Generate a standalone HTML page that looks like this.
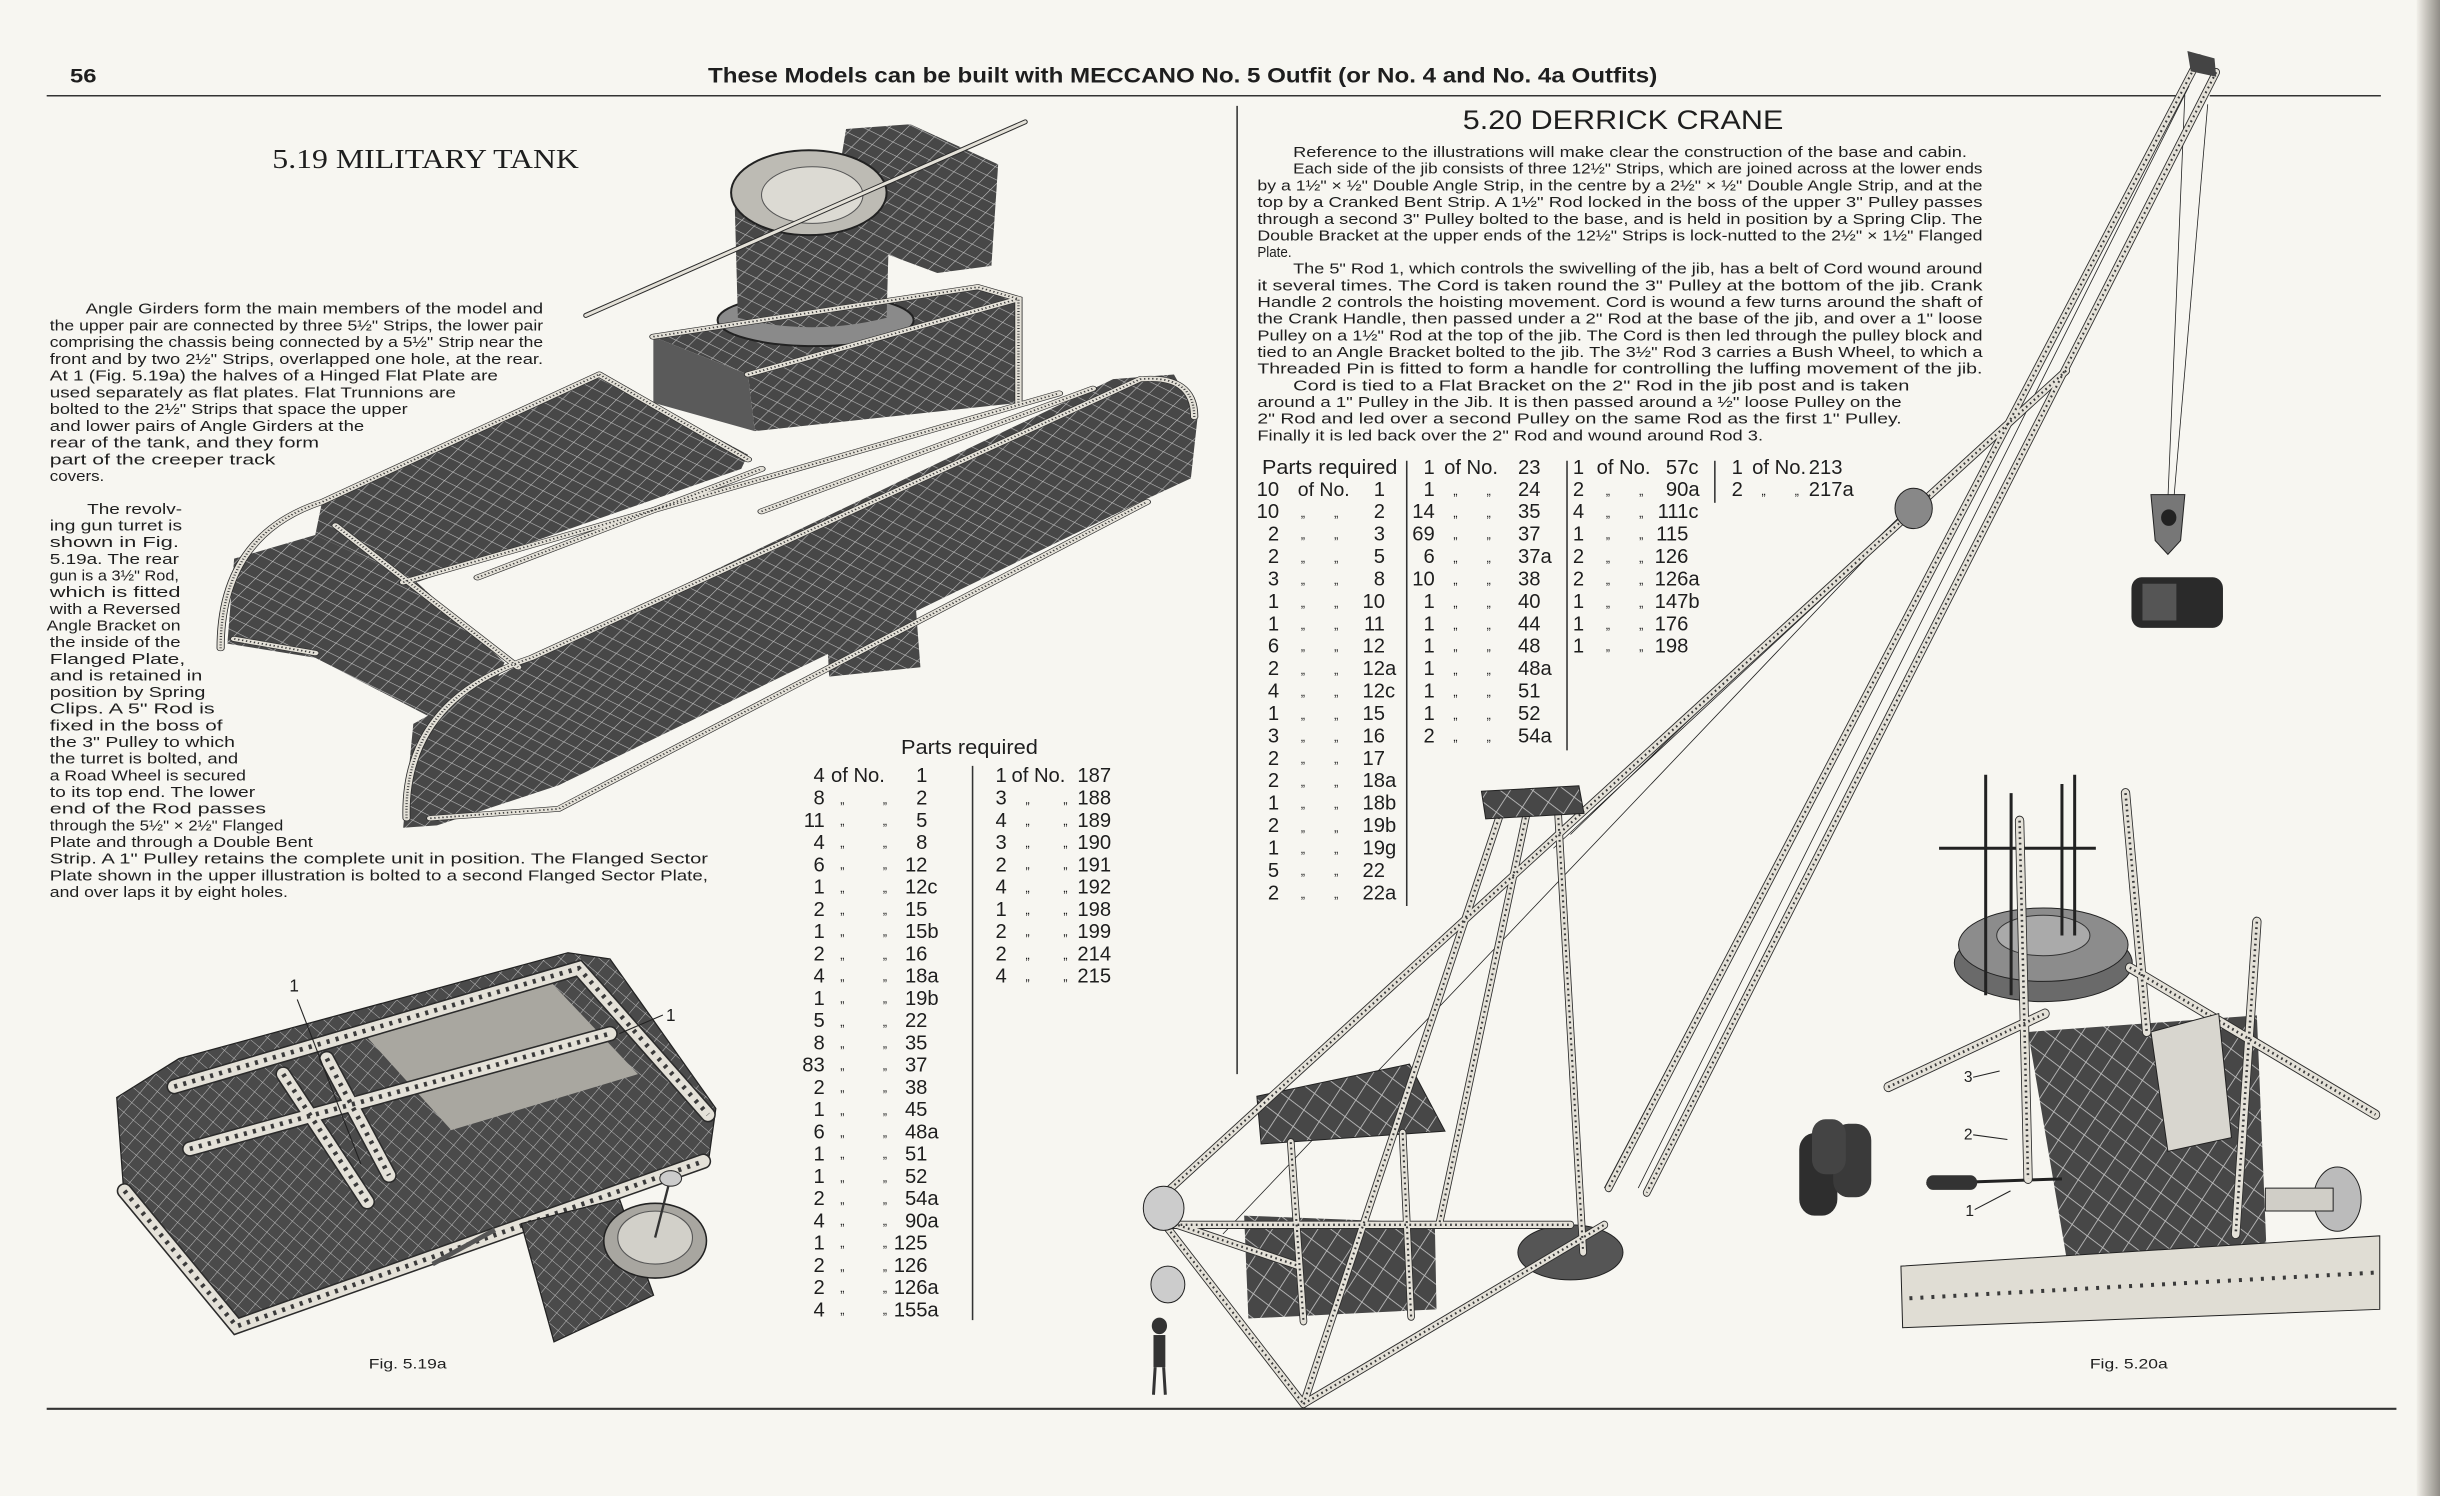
<!DOCTYPE html>
<html><head><meta charset="utf-8"><style>
html,body{margin:0;padding:0;background:#f7f6f1;}
#w{position:relative;width:2440px;height:1496px;overflow:hidden;background:#f7f6f1;}
svg{position:absolute;left:0;top:0}
text{font-family:"Liberation Sans",sans-serif;fill:#1e1e1e}
.b{fill:none;stroke:#2b2b2b;vector-effect:non-scaling-stroke;stroke-linecap:round}
.l{fill:none;stroke:#e4e1d8;vector-effect:non-scaling-stroke;stroke-linecap:round}
.h{fill:none;stroke:#3a3a3a;vector-effect:non-scaling-stroke;stroke-dasharray:2 4}
.t{fill:none;stroke:#222;vector-effect:non-scaling-stroke;stroke-width:0.8}
.tx{font-size:9.6px}
.pt{font-size:13px;fill:#2a2a2a}
.dt{font-size:8px;fill:#333}
</style></head><body><div id="w">
<svg width="2440" height="1496" viewBox="0 0 1568 961" preserveAspectRatio="none">
<defs>
<pattern id="mA" patternUnits="userSpaceOnUse" width="22" height="22" patternTransform="rotate(35)">
<rect width="22" height="22" fill="#474747"/><path d="M0 0H22M0 0V22" stroke="#bdbdbd" stroke-width="2"/></pattern>
<pattern id="mB" patternUnits="userSpaceOnUse" width="8" height="8" patternTransform="rotate(40)">
<rect width="8" height="8" fill="#4a4a4a"/><path d="M0 0H8M0 0V8" stroke="#b8b8b8" stroke-width="0.7"/></pattern>
<linearGradient id="edge" x1="0" x2="1"><stop offset="0" stop-color="#f2f0ea"/><stop offset="0.4" stop-color="#c9c6bf"/><stop offset="1" stop-color="#8f8c86"/></linearGradient>
<path id="s1" d="M60,1140 Q60,900 210,830 L620,560"/>
<path id="s2" d="M335,1500 Q330,1250 520,1160 L1420,570 Q1500,560 1500,650"/>
<path id="s3" d="M370,1500 L560,1480 L1430,830"/>
<path id="s4" d="M80,1120 L200,1150"/>
<path id="s5" d="M230,880 L500,1180"/>
<path id="s6" d="M330,1000 L1300,600"/>
<path id="s7" d="M440,990 L860,760"/>
<path id="s8" d="M620,560 L840,740"/>
<path id="s9" d="M700,480 L1180,375 L1240,400 L1240,620"/>
<path id="s10" d="M840,560 L1240,400"/>
<path id="s11" d="M860,850 L1350,590"/>
<path id="f1" d="M112,698 L372,622 L455,716"/>
<path id="f2" d="M122,738 L392,664"/>
<path id="f3" d="M182,690 L236,772"/>
<path id="f4" d="M80,765 L152,852 L452,746"/>
<path id="f5" d="M210,680 L250,755"/>
<path id="c1" d="M1262,20 L565,1250"/>
<path id="c2" d="M1282,35 L610,1255"/>
<path id="c3" d="M1105,360 L25,1270"/>
<path id="c4" d="M440,835 L205,1485"/>
<path id="c5" d="M470,835 L365,1290"/>
<path id="c6" d="M505,835 L535,1320"/>
<path id="c7" d="M205,1485 L560,1290"/>
<path id="c8" d="M25,1270 L205,1485"/>
<path id="c9" d="M190,1200 L205,1395"/>
<path id="c10" d="M322,1190 L332,1390"/>
<path id="c11" d="M40,1285 L200,1335"/>
<path id="c12" d="M30,1290 L520,1290"/>
<path id="d1" d="M895,1140 L1080,1060"/>
<path id="d2" d="M1180,1010 L1470,1170"/>
<path id="d3" d="M1175,820 L1200,1080"/>
<path id="d4" d="M1330,960 L1305,1300"/>
<path id="d5" d="M1050,850 L1060,1240"/>
</defs>
<rect x="1553" y="0" width="15" height="961" fill="url(#edge)"/>

<!-- header -->
<text x="45" y="53" font-size="12.5" font-weight="bold" textLength="17" lengthAdjust="spacingAndGlyphs">56</text>
<text x="455" y="53" font-size="13.5" font-weight="bold" textLength="610" lengthAdjust="spacingAndGlyphs">These Models can be built with MECCANO No. 5 Outfit (or No. 4 and No. 4a Outfits)</text>
<line x1="30" y1="61.5" x2="1398" y2="61.5" stroke="#333" stroke-width="1"/>
<line x1="1420" y1="61.5" x2="1530" y2="61.5" stroke="#333" stroke-width="1"/>
<line x1="795" y1="68" x2="795" y2="690" stroke="#333" stroke-width="1"/>
<line x1="30" y1="905" x2="1540" y2="905" stroke="#333" stroke-width="1.3"/>

<text x="175" y="108" font-size="17.5" textLength="197" lengthAdjust="spacingAndGlyphs" style="font-family:'Liberation Serif',serif">5.19  MILITARY TANK</text>
<text x="940" y="83" font-size="17" textLength="206" lengthAdjust="spacingAndGlyphs">5.20  DERRICK CRANE</text>

<!-- tank text -->
<g class="tx">
<text x="55" y="201.5" textLength="294" lengthAdjust="spacingAndGlyphs">Angle Girders form the main members of the model and</text>
<text x="32" y="212.3" textLength="317" lengthAdjust="spacingAndGlyphs">the upper pair are connected by three 5½" Strips, the lower pair</text>
<text x="32" y="223.0" textLength="317" lengthAdjust="spacingAndGlyphs">comprising the chassis being connected by a 5½" Strip near the</text>
<text x="32" y="233.8" textLength="317" lengthAdjust="spacingAndGlyphs">front and by two 2½" Strips, overlapped one hole, at the rear.</text>
<text x="32" y="244.5" textLength="288" lengthAdjust="spacingAndGlyphs">At 1 (Fig. 5.19a) the halves of a Hinged Flat Plate are</text>
<text x="32" y="255.3" textLength="261" lengthAdjust="spacingAndGlyphs">used separately as flat plates.  Flat Trunnions are</text>
<text x="32" y="266.0" textLength="230" lengthAdjust="spacingAndGlyphs">bolted to the 2½" Strips that space the upper</text>
<text x="32" y="276.8" textLength="202" lengthAdjust="spacingAndGlyphs">and lower pairs of Angle Girders at the</text>
<text x="32" y="287.6" textLength="173" lengthAdjust="spacingAndGlyphs">rear of the tank, and they form</text>
<text x="32" y="298.3" textLength="145" lengthAdjust="spacingAndGlyphs">part of the creeper track</text>
<text x="32" y="309.1" textLength="35" lengthAdjust="spacingAndGlyphs">covers.</text>
<text x="56" y="330.1" textLength="61" lengthAdjust="spacingAndGlyphs">The revolv-</text>
<text x="32" y="340.8" textLength="85" lengthAdjust="spacingAndGlyphs">ing gun turret is</text>
<text x="32" y="351.5" textLength="83" lengthAdjust="spacingAndGlyphs">shown  in  Fig.</text>
<text x="32" y="362.2" textLength="83" lengthAdjust="spacingAndGlyphs">5.19a.  The rear</text>
<text x="32" y="372.9" textLength="83" lengthAdjust="spacingAndGlyphs">gun is a 3½" Rod,</text>
<text x="32" y="383.6" textLength="84" lengthAdjust="spacingAndGlyphs">which  is  fitted</text>
<text x="32" y="394.3" textLength="84" lengthAdjust="spacingAndGlyphs">with a Reversed</text>
<text x="30" y="405.0" textLength="86" lengthAdjust="spacingAndGlyphs">Angle Bracket on</text>
<text x="32" y="415.7" textLength="84" lengthAdjust="spacingAndGlyphs">the inside of the</text>
<text x="32" y="426.4" textLength="87" lengthAdjust="spacingAndGlyphs">Flanged      Plate,</text>
<text x="32" y="437.1" textLength="98" lengthAdjust="spacingAndGlyphs">and is retained in</text>
<text x="32" y="447.8" textLength="100" lengthAdjust="spacingAndGlyphs">position by Spring</text>
<text x="32" y="458.5" textLength="106" lengthAdjust="spacingAndGlyphs">Clips.  A 5" Rod is</text>
<text x="32" y="469.2" textLength="111" lengthAdjust="spacingAndGlyphs">fixed in the boss of</text>
<text x="32" y="479.9" textLength="119" lengthAdjust="spacingAndGlyphs">the 3" Pulley to which</text>
<text x="32" y="490.6" textLength="121" lengthAdjust="spacingAndGlyphs">the turret is bolted, and</text>
<text x="32" y="501.3" textLength="126" lengthAdjust="spacingAndGlyphs">a Road Wheel is secured</text>
<text x="32" y="512.0" textLength="132" lengthAdjust="spacingAndGlyphs">to its top end.  The lower</text>
<text x="32" y="522.7" textLength="139" lengthAdjust="spacingAndGlyphs">end  of  the  Rod  passes</text>
<text x="32" y="533.4" textLength="150" lengthAdjust="spacingAndGlyphs">through the 5½" × 2½" Flanged</text>
<text x="32" y="544.1" textLength="169" lengthAdjust="spacingAndGlyphs">Plate and through a Double Bent</text>
<text x="32" y="554.8" textLength="423" lengthAdjust="spacingAndGlyphs">Strip.  A 1" Pulley retains the complete unit in position.  The Flanged Sector</text>
<text x="32" y="565.5" textLength="423" lengthAdjust="spacingAndGlyphs">Plate shown in the upper illustration is bolted to a second Flanged Sector Plate,</text>
<text x="32" y="576.2" textLength="153" lengthAdjust="spacingAndGlyphs">and over laps it by eight holes.</text>
</g>

<!-- crane text -->
<g class="tx" style="font-size:9.4px">
<text x="831" y="100.9" textLength="433" lengthAdjust="spacingAndGlyphs">Reference to the illustrations will make clear the construction of the base and cabin.</text>
<text x="831" y="111.6" textLength="443" lengthAdjust="spacingAndGlyphs">Each side of the jib consists of three 12½" Strips, which are joined across at the lower ends</text>
<text x="808" y="122.3" textLength="466" lengthAdjust="spacingAndGlyphs">by a 1½" × ½" Double Angle Strip, in the centre by a 2½" × ½" Double Angle Strip, and at the</text>
<text x="808" y="133.0" textLength="466" lengthAdjust="spacingAndGlyphs">top by a Cranked Bent Strip.  A 1½" Rod locked in the boss of the upper 3" Pulley passes</text>
<text x="808" y="143.8" textLength="466" lengthAdjust="spacingAndGlyphs">through a second 3" Pulley bolted to the base, and is held in position by a Spring Clip.  The</text>
<text x="808" y="154.5" textLength="466" lengthAdjust="spacingAndGlyphs">Double Bracket at the upper ends of the 12½" Strips is lock-nutted to the 2½" × 1½" Flanged</text>
<text x="808" y="165.2" textLength="22" lengthAdjust="spacingAndGlyphs">Plate.</text>
<text x="831" y="175.8" textLength="443" lengthAdjust="spacingAndGlyphs">The 5" Rod 1, which controls the swivelling of the jib, has a belt of Cord wound around</text>
<text x="808" y="186.5" textLength="466" lengthAdjust="spacingAndGlyphs">it several times.  The Cord is taken round the 3" Pulley at the bottom of the jib.  Crank</text>
<text x="808" y="197.2" textLength="466" lengthAdjust="spacingAndGlyphs">Handle 2 controls the hoisting movement.  Cord is wound a few turns around the shaft of</text>
<text x="808" y="207.9" textLength="466" lengthAdjust="spacingAndGlyphs">the Crank Handle, then passed under a 2" Rod at the base of the jib, and over a 1" loose</text>
<text x="808" y="218.6" textLength="466" lengthAdjust="spacingAndGlyphs">Pulley on a 1½" Rod at the top of the jib.  The Cord is then led through the pulley block and</text>
<text x="808" y="229.3" textLength="466" lengthAdjust="spacingAndGlyphs">tied to an Angle Bracket bolted to the jib.  The 3½" Rod 3 carries a Bush Wheel, to which a</text>
<text x="808" y="240.0" textLength="466" lengthAdjust="spacingAndGlyphs">Threaded Pin is fitted to form a handle for controlling the luffing movement of the jib.</text>
<text x="831" y="250.8" textLength="396" lengthAdjust="spacingAndGlyphs">Cord is tied to a Flat Bracket on the 2" Rod in the jib post and is taken</text>
<text x="808" y="261.5" textLength="414" lengthAdjust="spacingAndGlyphs">around a 1" Pulley in the Jib.   It is then passed around a ½" loose Pulley on the</text>
<text x="808" y="272.2" textLength="414" lengthAdjust="spacingAndGlyphs">2" Rod and led over a second Pulley on the same Rod as the first 1" Pulley.</text>
<text x="808" y="282.9" textLength="325" lengthAdjust="spacingAndGlyphs">Finally it is led back over the 2" Rod and wound around Rod 3.</text>
</g>

<!-- tank parts table -->
<g class="pt">
<text x="579" y="484.5" textLength="88" lengthAdjust="spacingAndGlyphs">Parts required</text>
<g text-anchor="end">
<text x="530" y="502.5">4</text><text x="530" y="516.8">8</text><text x="530" y="531.1">11</text><text x="530" y="545.4">4</text><text x="530" y="559.7">6</text><text x="530" y="574.0">1</text><text x="530" y="588.3">2</text><text x="530" y="602.6">1</text><text x="530" y="616.9">2</text><text x="530" y="631.2">4</text><text x="530" y="645.5">1</text><text x="530" y="659.8">5</text><text x="530" y="674.1">8</text><text x="530" y="688.4">83</text><text x="530" y="702.7">2</text><text x="530" y="717.0">1</text><text x="530" y="731.3">6</text><text x="530" y="745.6">1</text><text x="530" y="759.9">1</text><text x="530" y="774.2">2</text><text x="530" y="788.5">4</text><text x="530" y="802.8">1</text><text x="530" y="817.1">2</text><text x="530" y="831.4">2</text><text x="530" y="845.7">4</text>
<text x="596" y="502.5">1</text><text x="596" y="516.8">2</text><text x="596" y="531.1">5</text><text x="596" y="545.4">8</text><text x="596" y="559.7">12</text><text x="596" y="574.0">12</text><text x="596" y="588.3">15</text><text x="596" y="602.6">15</text><text x="596" y="616.9">16</text><text x="596" y="631.2">18</text><text x="596" y="645.5">19</text><text x="596" y="659.8">22</text><text x="596" y="674.1">35</text><text x="596" y="688.4">37</text><text x="596" y="702.7">38</text><text x="596" y="717.0">45</text><text x="596" y="731.3">48</text><text x="596" y="745.6">51</text><text x="596" y="759.9">52</text><text x="596" y="774.2">54</text><text x="596" y="788.5">90</text><text x="596" y="802.8">125</text><text x="596" y="817.1">126</text><text x="596" y="831.4">126</text><text x="596" y="845.7">155</text>
<text x="647" y="502.5">1</text><text x="647" y="516.8">3</text><text x="647" y="531.1">4</text><text x="647" y="545.4">3</text><text x="647" y="559.7">2</text><text x="647" y="574.0">4</text><text x="647" y="588.3">1</text><text x="647" y="602.6">2</text><text x="647" y="616.9">2</text><text x="647" y="631.2">4</text>
<text x="714" y="502.5">187</text><text x="714" y="516.8">188</text><text x="714" y="531.1">189</text><text x="714" y="545.4">190</text><text x="714" y="559.7">191</text><text x="714" y="574.0">192</text><text x="714" y="588.3">198</text><text x="714" y="602.6">199</text><text x="714" y="616.9">214</text><text x="714" y="631.2">215</text>
</g>
<text x="596" y="574.0">c</text><text x="596" y="602.6">b</text><text x="596" y="631.2">a</text><text x="596" y="645.5">b</text><text x="596" y="731.3">a</text><text x="596" y="774.2">a</text><text x="596" y="788.5">a</text><text x="596" y="831.4">a</text><text x="596" y="845.7">a</text>
<text x="534" y="502.5">of No.</text><text x="650" y="502.5">of No.</text>
</g>
<g class="dt">
<text x="540" y="516" textLength="30" lengthAdjust="spacing">„    „</text><text x="540" y="530" textLength="30" lengthAdjust="spacing">„    „</text><text x="540" y="544" textLength="30" lengthAdjust="spacing">„    „</text><text x="540" y="558" textLength="30" lengthAdjust="spacing">„    „</text><text x="540" y="573" textLength="30" lengthAdjust="spacing">„    „</text><text x="540" y="587" textLength="30" lengthAdjust="spacing">„    „</text><text x="540" y="601" textLength="30" lengthAdjust="spacing">„    „</text><text x="540" y="616" textLength="30" lengthAdjust="spacing">„    „</text><text x="540" y="630" textLength="30" lengthAdjust="spacing">„    „</text><text x="540" y="644" textLength="30" lengthAdjust="spacing">„    „</text><text x="540" y="659" textLength="30" lengthAdjust="spacing">„    „</text><text x="540" y="673" textLength="30" lengthAdjust="spacing">„    „</text><text x="540" y="687" textLength="30" lengthAdjust="spacing">„    „</text><text x="540" y="701" textLength="30" lengthAdjust="spacing">„    „</text><text x="540" y="716" textLength="30" lengthAdjust="spacing">„    „</text><text x="540" y="730" textLength="30" lengthAdjust="spacing">„    „</text><text x="540" y="744" textLength="30" lengthAdjust="spacing">„    „</text><text x="540" y="759" textLength="30" lengthAdjust="spacing">„    „</text><text x="540" y="773" textLength="30" lengthAdjust="spacing">„    „</text><text x="540" y="787" textLength="30" lengthAdjust="spacing">„    „</text><text x="540" y="801" textLength="30" lengthAdjust="spacing">„    „</text><text x="540" y="816" textLength="30" lengthAdjust="spacing">„    „</text><text x="540" y="830" textLength="30" lengthAdjust="spacing">„    „</text><text x="540" y="844" textLength="30" lengthAdjust="spacing">„    „</text>
<text x="659" y="516" textLength="27" lengthAdjust="spacing">„    „</text><text x="659" y="530" textLength="27" lengthAdjust="spacing">„    „</text><text x="659" y="544" textLength="27" lengthAdjust="spacing">„    „</text><text x="659" y="558" textLength="27" lengthAdjust="spacing">„    „</text><text x="659" y="573" textLength="27" lengthAdjust="spacing">„    „</text><text x="659" y="587" textLength="27" lengthAdjust="spacing">„    „</text><text x="659" y="601" textLength="27" lengthAdjust="spacing">„    „</text><text x="659" y="616" textLength="27" lengthAdjust="spacing">„    „</text><text x="659" y="630" textLength="27" lengthAdjust="spacing">„    „</text>
</g>
<line x1="625" y1="492" x2="625" y2="848" stroke="#333" stroke-width="1"/>

<!-- crane parts table -->
<g class="pt">
<text x="811" y="304.5" textLength="87" lengthAdjust="spacingAndGlyphs">Parts required</text>
<g text-anchor="end">
<text x="822" y="318.5">10</text><text x="822" y="332.9">10</text><text x="822" y="347.3">2</text><text x="822" y="361.7">2</text><text x="822" y="376.1">3</text><text x="822" y="390.5">1</text><text x="822" y="404.9">1</text><text x="822" y="419.3">6</text><text x="822" y="433.7">2</text><text x="822" y="448.1">4</text><text x="822" y="462.5">1</text><text x="822" y="476.9">3</text><text x="822" y="491.3">2</text><text x="822" y="505.7">2</text><text x="822" y="520.1">1</text><text x="822" y="534.5">2</text><text x="822" y="548.9">1</text><text x="822" y="563.3">5</text><text x="822" y="577.7">2</text>
<text x="890" y="318.5">1</text><text x="890" y="332.9">2</text><text x="890" y="347.3">3</text><text x="890" y="361.7">5</text><text x="890" y="376.1">8</text><text x="890" y="390.5">10</text><text x="890" y="404.9">11</text><text x="890" y="419.3">12</text><text x="890" y="433.7">12</text><text x="890" y="448.1">12</text><text x="890" y="462.5">15</text><text x="890" y="476.9">16</text><text x="890" y="491.3">17</text><text x="890" y="505.7">18</text><text x="890" y="520.1">18</text><text x="890" y="534.5">19</text><text x="890" y="548.9">19</text><text x="890" y="563.3">22</text><text x="890" y="577.7">22</text>
<text x="922" y="304.5">1</text><text x="922" y="318.5">1</text><text x="922" y="332.9">14</text><text x="922" y="347.3">69</text><text x="922" y="361.7">6</text><text x="922" y="376.1">10</text><text x="922" y="390.5">1</text><text x="922" y="404.9">1</text><text x="922" y="419.3">1</text><text x="922" y="433.7">1</text><text x="922" y="448.1">1</text><text x="922" y="462.5">1</text><text x="922" y="476.9">2</text>
<text x="990" y="304.5">23</text><text x="990" y="318.5">24</text><text x="990" y="332.9">35</text><text x="990" y="347.3">37</text><text x="990" y="361.7">37</text><text x="990" y="376.1">38</text><text x="990" y="390.5">40</text><text x="990" y="404.9">44</text><text x="990" y="419.3">48</text><text x="990" y="433.7">48</text><text x="990" y="448.1">51</text><text x="990" y="462.5">52</text><text x="990" y="476.9">54</text>
<text x="1018" y="304.5">1</text><text x="1018" y="318.5">2</text><text x="1018" y="332.9">4</text><text x="1018" y="347.3">1</text><text x="1018" y="361.7">2</text><text x="1018" y="376.1">2</text><text x="1018" y="390.5">1</text><text x="1018" y="404.9">1</text><text x="1018" y="419.3">1</text>
<text x="1085" y="304.5">57</text><text x="1085" y="318.5">90</text><text x="1085" y="332.9">111</text><text x="1085" y="347.3">115</text><text x="1085" y="361.7">126</text><text x="1085" y="376.1">126</text><text x="1085" y="390.5">147</text><text x="1085" y="404.9">176</text><text x="1085" y="419.3">198</text>
<text x="1120" y="304.5">1</text><text x="1120" y="318.5">2</text>
<text x="1184" y="304.5">213</text><text x="1184" y="318.5">217</text>
</g>
<text x="890" y="433.7">a</text><text x="890" y="448.1">c</text><text x="890" y="505.7">a</text><text x="890" y="520.1">b</text><text x="890" y="534.5">b</text><text x="890" y="548.9">g</text><text x="890" y="577.7">a</text>
<text x="990" y="361.7">a</text><text x="990" y="433.7">a</text><text x="990" y="476.9">a</text>
<text x="1085" y="304.5">c</text><text x="1085" y="318.5">a</text><text x="1085" y="332.9">c</text><text x="1085" y="376.1">a</text><text x="1085" y="390.5">b</text><text x="1184" y="318.5">a</text>
<text x="834" y="318.5" font-size="12.5">of No.</text><text x="928" y="304.5">of No.</text><text x="1026" y="304.5">of No.</text><text x="1126" y="304.5">of No.</text>
</g>
<g class="dt">
<text x="836" y="332" textLength="24" lengthAdjust="spacing">„   „</text><text x="836" y="346" textLength="24" lengthAdjust="spacing">„   „</text><text x="836" y="361" textLength="24" lengthAdjust="spacing">„   „</text><text x="836" y="375" textLength="24" lengthAdjust="spacing">„   „</text><text x="836" y="390" textLength="24" lengthAdjust="spacing">„   „</text><text x="836" y="404" textLength="24" lengthAdjust="spacing">„   „</text><text x="836" y="418" textLength="24" lengthAdjust="spacing">„   „</text><text x="836" y="433" textLength="24" lengthAdjust="spacing">„   „</text><text x="836" y="447" textLength="24" lengthAdjust="spacing">„   „</text><text x="836" y="462" textLength="24" lengthAdjust="spacing">„   „</text><text x="836" y="476" textLength="24" lengthAdjust="spacing">„   „</text><text x="836" y="490" textLength="24" lengthAdjust="spacing">„   „</text><text x="836" y="505" textLength="24" lengthAdjust="spacing">„   „</text><text x="836" y="519" textLength="24" lengthAdjust="spacing">„   „</text><text x="836" y="534" textLength="24" lengthAdjust="spacing">„   „</text><text x="836" y="548" textLength="24" lengthAdjust="spacing">„   „</text><text x="836" y="562" textLength="24" lengthAdjust="spacing">„   „</text><text x="836" y="577" textLength="24" lengthAdjust="spacing">„   „</text>
<text x="934" y="318" textLength="24" lengthAdjust="spacing">„   „</text><text x="934" y="332" textLength="24" lengthAdjust="spacing">„   „</text><text x="934" y="346" textLength="24" lengthAdjust="spacing">„   „</text><text x="934" y="361" textLength="24" lengthAdjust="spacing">„   „</text><text x="934" y="375" textLength="24" lengthAdjust="spacing">„   „</text><text x="934" y="390" textLength="24" lengthAdjust="spacing">„   „</text><text x="934" y="404" textLength="24" lengthAdjust="spacing">„   „</text><text x="934" y="418" textLength="24" lengthAdjust="spacing">„   „</text><text x="934" y="433" textLength="24" lengthAdjust="spacing">„   „</text><text x="934" y="447" textLength="24" lengthAdjust="spacing">„   „</text><text x="934" y="462" textLength="24" lengthAdjust="spacing">„   „</text><text x="934" y="476" textLength="24" lengthAdjust="spacing">„   „</text>
<text x="1032" y="318" textLength="24" lengthAdjust="spacing">„   „</text><text x="1032" y="332" textLength="24" lengthAdjust="spacing">„   „</text><text x="1032" y="346" textLength="24" lengthAdjust="spacing">„   „</text><text x="1032" y="361" textLength="24" lengthAdjust="spacing">„   „</text><text x="1032" y="375" textLength="24" lengthAdjust="spacing">„   „</text><text x="1032" y="390" textLength="24" lengthAdjust="spacing">„   „</text><text x="1032" y="404" textLength="24" lengthAdjust="spacing">„   „</text><text x="1032" y="418" textLength="24" lengthAdjust="spacing">„   „</text>
<text x="1132" y="318" textLength="24" lengthAdjust="spacing">„   „</text>
</g>
<line x1="904" y1="296" x2="904" y2="582" stroke="#333" stroke-width="1"/>
<line x1="1007" y1="296" x2="1007" y2="482" stroke="#333" stroke-width="1"/>
<line x1="1102" y1="296" x2="1102" y2="323" stroke="#333" stroke-width="1"/>

<!-- ===== TANK (zoom5 coords) ===== -->
<g transform="translate(115.7,70.7) scale(0.4345,0.3033)">
<polygon points="330,1520 345,1300 520,1160 1380,570 1470,560 1505,650 1495,780 1420,830 560,1430 380,1515" fill="url(#mA)"/>
<polygon points="200,900 350,1000 480,1170 430,1330 200,1160 70,1130 80,950" fill="url(#mA)"/>
<polygon points="210,830 620,560 840,730 830,760 350,1000 200,900" fill="url(#mA)"/>
<polygon points="700,480 1180,375 1240,400 840,560" fill="url(#mA)"/>
<polygon points="840,560 1240,400 1240,620 850,680" fill="url(#mA)"/>
<polygon points="700,480 840,560 850,680 700,620" fill="#5a5a5a"/>
<polygon points="985,40 1080,30 1210,115 1200,330 1120,345 960,260" fill="url(#mA)"/>
<ellipse cx="940" cy="445" rx="145" ry="55" fill="#8a8a8a" stroke="#222" stroke-width="2" vector-effect="non-scaling-stroke"/>
<path d="M820,180 L1050,180 L1045,440 Q935,480 825,440 Z" fill="url(#mA)"/>
<ellipse cx="930" cy="175" rx="115" ry="90" fill="#bdbbb4" stroke="#222" stroke-width="2" vector-effect="non-scaling-stroke"/>
<ellipse cx="935" cy="180" rx="75" ry="60" fill="#dcdad3" stroke="#555" stroke-width="1" vector-effect="non-scaling-stroke"/>
<path d="M950,920 L1080,900 L1095,1180 L960,1200 Z" fill="url(#mA)"/>
<path class="b" style="stroke-width:5" d="M600,435 L1250,25"/><path class="l" style="stroke-width:3" d="M600,435 L1250,25"/>
<g class="b" style="stroke-width:12"><use href="#s1"/><use href="#s2"/><use href="#s3"/><use href="#s4"/><use href="#s5"/><use href="#s6"/><use href="#s7"/><use href="#s8"/><use href="#s9"/><use href="#s10"/><use href="#s11"/></g>
<g class="l" style="stroke-width:9.5"><use href="#s1"/><use href="#s2"/><use href="#s3"/><use href="#s4"/><use href="#s5"/><use href="#s6"/><use href="#s7"/><use href="#s8"/><use href="#s9"/><use href="#s10"/><use href="#s11"/></g>
<g class="h" style="stroke-width:3.5"><use href="#s1"/><use href="#s2"/><use href="#s3"/><use href="#s4"/><use href="#s5"/><use href="#s6"/><use href="#s7"/><use href="#s8"/><use href="#s9"/><use href="#s10"/><use href="#s11"/></g>
</g>

<!-- ===== Fig 5.19a ===== -->
<g>
<polygon points="75,705 115,680 365,612 392,616 460,712 455,748 210,832 150,856 80,772" fill="url(#mB)" stroke="#222" stroke-width="0.8"/>
<polygon points="232,662 355,632 410,690 290,726" fill="#a9a7a0"/>
<g class="b" style="stroke-width:10"><use href="#f1"/><use href="#f2"/><use href="#f3"/><use href="#f4"/><use href="#f5"/></g>
<g class="l" style="stroke-width:8"><use href="#f1"/><use href="#f2"/><use href="#f3"/><use href="#f4"/><use href="#f5"/></g>
<g class="h" style="stroke-width:3"><use href="#f1"/><use href="#f2"/><use href="#f3"/><use href="#f4"/><use href="#f5"/></g>
<line x1="278" y1="812" x2="318" y2="790" stroke="#555" stroke-width="3"/>
<polygon points="335,786 398,770 420,832 356,862" fill="url(#mB)" stroke="#222" stroke-width="0.8"/>
<ellipse cx="421" cy="797" rx="33" ry="24" fill="#a8a6a0" stroke="#222" stroke-width="1"/>
<ellipse cx="421" cy="795" rx="24" ry="17" fill="#d2d0c9" stroke="#555" stroke-width="0.7"/>
<line x1="421" y1="795" x2="430" y2="760" stroke="#333" stroke-width="1.5"/>
<ellipse cx="431" cy="757" rx="7" ry="5" fill="#ccc" stroke="#333" stroke-width="0.7"/>
<text x="186" y="637" font-size="11">1</text><text x="428" y="656" font-size="11">1</text>
<line x1="191" y1="642" x2="232" y2="748" stroke="#222" stroke-width="0.7"/>
<line x1="426" y1="652" x2="398" y2="664" stroke="#222" stroke-width="0.7"/>
<text x="237" y="879" font-size="9" textLength="50" lengthAdjust="spacingAndGlyphs">Fig. 5.19a</text>
</g>

<!-- ===== CRANE (zoom6 coords) ===== -->
<g transform="translate(726,25.7) scale(0.5446,0.590)">
<path class="t" d="M1245,60 L1225,500 M1272,70 L1232,500 M1250,50 L600,1250 M1238,60 L560,1250 M930,500 L520,865 M920,520 L500,880 M930,505 L110,1300"/>
<ellipse cx="520" cy="1320" rx="62" ry="30" fill="#555" stroke="#222" stroke-width="1" vector-effect="non-scaling-stroke"/>
<polygon points="150,1150 330,1115 372,1188 155,1202" fill="url(#mA)" stroke="#222" stroke-width="1" vector-effect="non-scaling-stroke"/>
<polygon points="135,1280 360,1288 362,1382 140,1392" fill="url(#mA)"/>
<g class="b" style="stroke-width:9"><use href="#c1"/><use href="#c2"/><use href="#c3"/><use href="#c4"/><use href="#c5"/><use href="#c6"/><use href="#c7"/><use href="#c8"/><use href="#c9"/><use href="#c10"/><use href="#c11"/><use href="#c12"/></g>
<g class="l" style="stroke-width:7"><use href="#c1"/><use href="#c2"/><use href="#c3"/><use href="#c4"/><use href="#c5"/><use href="#c6"/><use href="#c7"/><use href="#c8"/><use href="#c9"/><use href="#c10"/><use href="#c11"/><use href="#c12"/></g>
<g class="h" style="stroke-width:2.5"><use href="#c1"/><use href="#c2"/><use href="#c3"/><use href="#c4"/><use href="#c5"/><use href="#c6"/><use href="#c7"/><use href="#c8"/><use href="#c9"/><use href="#c10"/><use href="#c11"/><use href="#c12"/></g>
<polygon points="415,818 530,812 536,842 420,848" fill="url(#mA)" stroke="#222" stroke-width="1" vector-effect="non-scaling-stroke"/>
<polygon points="1248,12 1280,20 1282,40 1252,34" fill="#444"/>
<ellipse cx="925" cy="510" rx="22" ry="22" fill="#888" stroke="#222" stroke-width="1" vector-effect="non-scaling-stroke"/>
<circle cx="40" cy="1272" r="24" fill="#ccc" stroke="#222" stroke-width="1" vector-effect="non-scaling-stroke"/>
<circle cx="45" cy="1355" r="20" fill="#ccc" stroke="#222" stroke-width="1" vector-effect="non-scaling-stroke"/>
<path d="M1205,495 L1245,495 L1240,545 L1225,560 L1210,545 Z" fill="#777" stroke="#222" stroke-width="1" vector-effect="non-scaling-stroke"/>
<circle cx="1226" cy="520" r="9" fill="#222"/>
<rect x="1182" y="585" width="108" height="55" rx="12" fill="#2a2a2a"/>
<rect x="1195" y="592" width="40" height="40" fill="#555"/>
<rect x="28" y="1410" width="14" height="35" fill="#333"/>
<circle cx="35" cy="1400" r="9" fill="#333"/>
<path d="M30,1445 L28,1475 M40,1445 L42,1475" stroke="#333" stroke-width="3" vector-effect="non-scaling-stroke"/>
<polygon points="1060,1080 1330,1062 1342,1332 1112,1362" fill="url(#mA)"/>
<ellipse cx="1078" cy="1005" rx="105" ry="42" fill="#6a6a6a" stroke="#222" stroke-width="1" vector-effect="non-scaling-stroke"/>
<ellipse cx="1078" cy="985" rx="100" ry="40" fill="#8c8c8c" stroke="#222" stroke-width="1" vector-effect="non-scaling-stroke"/>
<ellipse cx="1078" cy="975" rx="55" ry="22" fill="#aaa" stroke="#333" stroke-width="1" vector-effect="non-scaling-stroke"/>
<path class="t" style="stroke-width:3" d="M1010,800 L1010,1040 M1040,820 L1040,1040 M1115,800 L1115,975 M1100,810 L1100,975 M955,880 L1140,880 M940,1245 L1100,1240"/>
<g class="b" style="stroke-width:11"><use href="#d1"/><use href="#d2"/><use href="#d3"/><use href="#d4"/><use href="#d5"/></g>
<g class="l" style="stroke-width:9"><use href="#d1"/><use href="#d2"/><use href="#d3"/><use href="#d4"/><use href="#d5"/></g>
<g class="h" style="stroke-width:3"><use href="#d1"/><use href="#d2"/><use href="#d3"/><use href="#d4"/><use href="#d5"/></g>
<polygon points="1205,1080 1285,1060 1300,1195 1225,1210" fill="#d8d6cf" stroke="#222" stroke-width="1" vector-effect="non-scaling-stroke"/>
<polygon points="910,1335 1475,1302 1475,1382 912,1402" fill="#e0ddd4" stroke="#222" stroke-width="1" vector-effect="non-scaling-stroke"/>
<path class="h" style="stroke-width:4;stroke-dasharray:3 8" d="M920,1370 L1470,1342"/>
<ellipse cx="1425" cy="1262" rx="28" ry="35" fill="#bbb" stroke="#222" stroke-width="1" vector-effect="non-scaling-stroke"/>
<rect x="1340" y="1250" width="80" height="25" fill="#d0cec7" stroke="#222" stroke-width="1" vector-effect="non-scaling-stroke"/>
<rect x="940" y="1236" width="60" height="16" rx="8" fill="#333"/>
<rect x="790" y="1190" width="45" height="90" rx="18" fill="#2e2e2e"/>
<rect x="830" y="1180" width="45" height="80" rx="18" fill="#3a3a3a"/>
<rect x="805" y="1175" width="40" height="60" rx="16" fill="#444"/>
</g>
<text x="1262" y="695" font-size="10">3</text>
<text x="1262" y="732" font-size="10">2</text>
<text x="1263" y="781" font-size="10">1</text>
<line x1="1268" y1="692" x2="1285" y2="688" stroke="#222" stroke-width="0.7"/>
<line x1="1268" y1="729" x2="1290" y2="732" stroke="#222" stroke-width="0.7"/>
<line x1="1269" y1="777" x2="1292" y2="765" stroke="#222" stroke-width="0.7"/>
<text x="1343" y="879" font-size="9" textLength="50" lengthAdjust="spacingAndGlyphs">Fig. 5.20a</text>
</svg>
</div></body></html>
